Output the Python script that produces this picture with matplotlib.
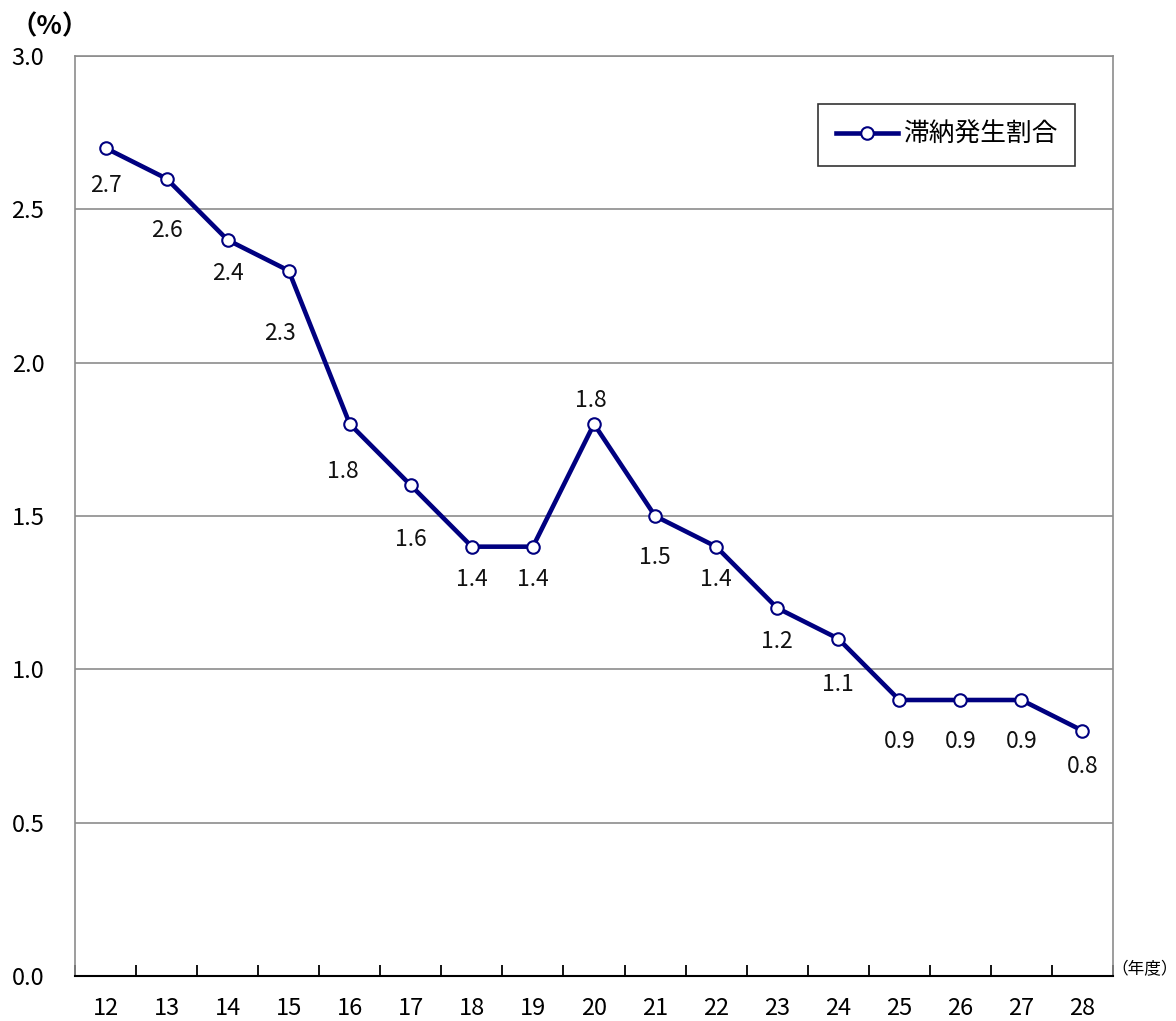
import matplotlib
matplotlib.use("Agg")
import matplotlib.pyplot as plt
from matplotlib.ticker import FixedLocator, NullFormatter

plt.rcParams['font.family'] = ['Noto Sans CJK JP', 'DejaVu Sans']

years = ['12', '13', '14', '15', '16', '17', '18', '19', '20',
         '21', '22', '23', '24', '25', '26', '27', '28']
rates = [2.7, 2.6, 2.4, 2.3, 1.8, 1.6, 1.4, 1.4, 1.8,
         1.5, 1.4, 1.2, 1.1, 0.9, 0.9, 0.9, 0.8]
series_name = '滞納発生割合'
y_ticks = [0.0, 0.5, 1.0, 1.5, 2.0, 2.5, 3.0]
# label offsets in points (dx, dy)
label_dx = [0, 0, 0, -6, -5, 0, 0, 0, -2, 0, 0, 0, 0, 0, 0, 0, 0]
label_dy = [-27, -37, -24, -45, -34, -39, -24, -24, 17, -30, -24, -24, -33, -30, -30, -30, -26]

fig = plt.figure(figsize=(11.76, 10.21), dpi=100)
ax = fig.add_axes([75/1176, 45/1021, (1113-75)/1176, (976-56)/1021])

x = list(range(len(years)))
navy = '#000080'
ax.plot(x, rates, color=navy, lw=3.3, marker='o', ms=9,
        markerfacecolor='white', markeredgecolor=navy, markeredgewidth=1.5,
        label=series_name, zorder=3, solid_joinstyle='miter')

for xi, v, dx, dy in zip(x, rates, label_dx, label_dy):
    ax.annotate(f'{v:.1f}', (xi, v), xytext=(dx, dy), textcoords='offset points',
                ha='center', va='center', fontsize=16.5, color='#111111')

ax.set_xlim(-0.5, len(years) - 0.5)
ax.set_ylim(0, 3.0)
ax.set_yticks(y_ticks)
ax.set_yticklabels([f'{t:.1f}' for t in y_ticks], fontsize=17)
ax.tick_params(axis='y', length=0, pad=22)
ax.yaxis.grid(True, color='#8c8c8c', lw=1.2)
ax.set_axisbelow(True)

ax.set_xticks(x)
ax.set_xticklabels(years, fontsize=17)
ax.tick_params(axis='x', which='major', length=0, pad=15)
ax.xaxis.set_minor_locator(FixedLocator([i + 0.5 for i in range(-1, len(years))]))
ax.xaxis.set_minor_formatter(NullFormatter())
ax.tick_params(axis='x', which='minor', direction='in', length=8, width=1.3, color='black')

for s in ['left', 'right', 'top']:
    ax.spines[s].set_color('#8c8c8c')
    ax.spines[s].set_linewidth(1.2)
ax.spines['bottom'].set_color('black')
ax.spines['bottom'].set_linewidth(1.5)

fig.text(50/1176, 1 - 27/1021, '（%）', ha='center', va='center', fontsize=19,
         fontweight='bold')
fig.text(1145/1176, 1 - 970/1021, '（年度）', ha='center', va='center', fontsize=12)

leg = ax.legend(loc='upper left', bbox_to_anchor=((818-75)/1038, (976-104)/920),
                fontsize=18.5, frameon=True, fancybox=False, handlelength=2.4,
                borderpad=0.7, handletextpad=0.2, borderaxespad=0)
leg.get_frame().set_edgecolor('black')
leg.get_frame().set_linewidth(1.2)

fig.savefig('out.png', dpi=100)
